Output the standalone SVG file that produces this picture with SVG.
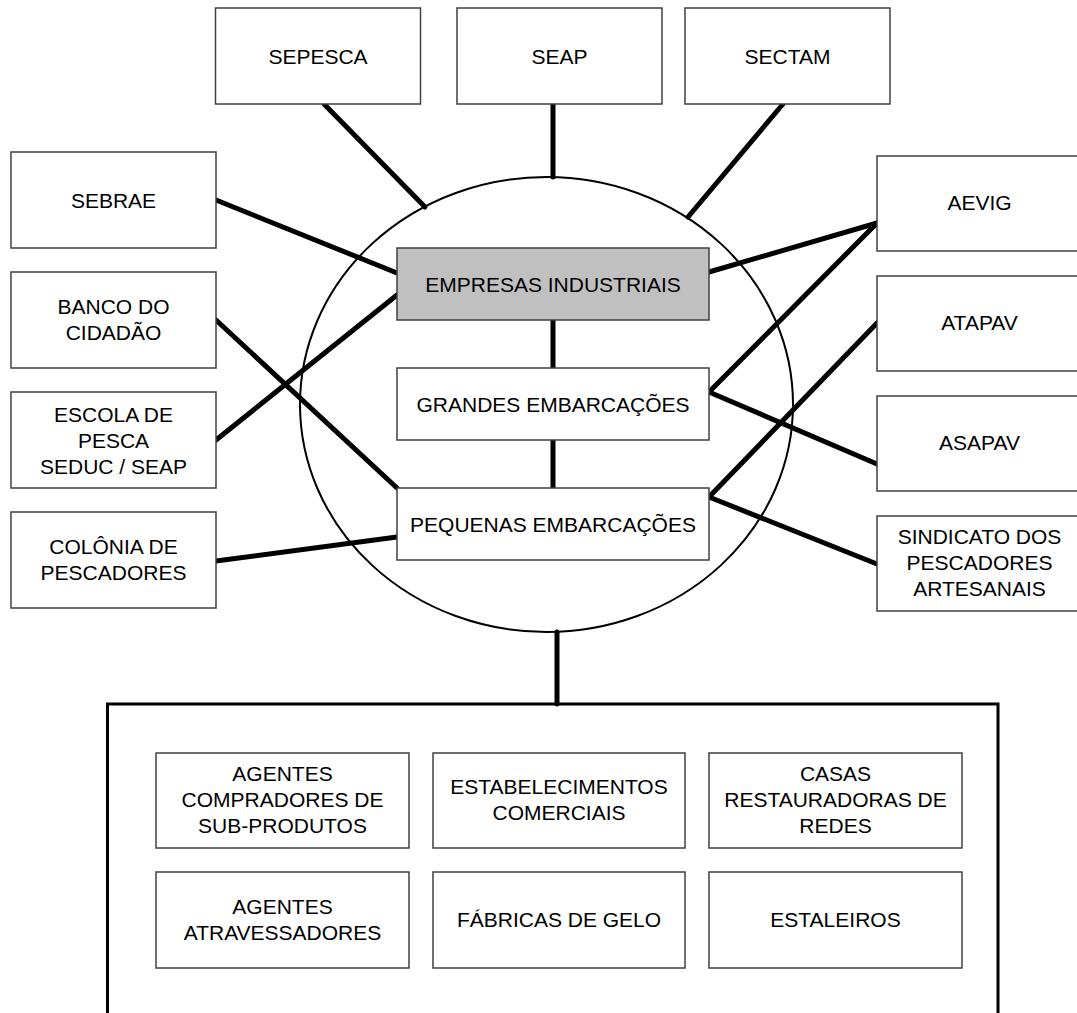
<svg xmlns="http://www.w3.org/2000/svg" width="1077" height="1013" viewBox="0 0 1077 1013">
<style>
  .box { fill: #ffffff; stroke: #404040; stroke-width: 1.5; }
  .gray { fill: #c0c0c0; stroke: #404040; stroke-width: 1.5; }
  .t { font-family: "Liberation Sans", Arial, sans-serif; font-size: 21px; fill: #000; text-anchor: middle; }
  .c { stroke: #000; stroke-width: 5; stroke-linecap: round; fill: none; }
</style>
<rect width="1077" height="1013" fill="#ffffff"/>
<ellipse id="circle" cx="546.5" cy="404.5" rx="246.5" ry="227.5" fill="none" stroke="#000" stroke-width="2"/>
<path id="container" d="M107.5,1013 V704 H998 V1013" fill="none" stroke="#000" stroke-width="3"/>

<g id="connectors">
  <line class="c" x1="324" y1="104" x2="425" y2="207"/>
  <line class="c" x1="553" y1="104" x2="553" y2="177"/>
  <line class="c" x1="783" y1="104" x2="688" y2="217"/>
  <line class="c" x1="216" y1="200" x2="397" y2="273"/>
  <line class="c" x1="216" y1="440" x2="397" y2="295"/>
  <line class="c" x1="216" y1="320" x2="397" y2="488"/>
  <line class="c" x1="216" y1="561" x2="397" y2="537"/>
  <line class="c" x1="877" y1="223" x2="709" y2="272"/>
  <line class="c" x1="877" y1="223" x2="709" y2="392"/>
  <line class="c" x1="877" y1="323" x2="709" y2="497"/>
  <line class="c" x1="709" y1="392" x2="877" y2="464"/>
  <line class="c" x1="709" y1="497" x2="877" y2="564"/>
  <line class="c" x1="553" y1="320" x2="553" y2="368"/>
  <line class="c" x1="553" y1="440" x2="553" y2="488"/>
  <line class="c" x1="557" y1="632" x2="557" y2="704" stroke-linecap="butt"/>
</g>

<g id="sepesca"><rect class="box" x="215.5" y="8" width="205" height="96"/><text class="t" x="318" y="63.5">SEPESCA</text></g>
<g id="seap"><rect class="box" x="457" y="8" width="205" height="96"/><text class="t" x="559.5" y="63.5">SEAP</text></g>
<g id="sectam"><rect class="box" x="685" y="8" width="205" height="96"/><text class="t" x="787.5" y="63.5">SECTAM</text></g>

<g id="sebrae"><rect class="box" x="11" y="152" width="205" height="96"/><text class="t" x="113.5" y="207.5">SEBRAE</text></g>
<g id="banco"><rect class="box" x="11" y="272" width="205" height="96"/><text class="t" x="113.5" y="314">BANCO DO</text><text class="t" x="113.5" y="340">CIDADÃO</text></g>
<g id="escola"><rect class="box" x="11" y="392" width="205" height="96"/><text class="t" x="113.5" y="421.5">ESCOLA DE</text><text class="t" x="113.5" y="447.5">PESCA</text><text class="t" x="113.5" y="473.5">SEDUC / SEAP</text></g>
<g id="colonia"><rect class="box" x="11" y="512" width="205" height="96"/><text class="t" x="113.5" y="553.5">COLÔNIA DE</text><text class="t" x="113.5" y="579.5">PESCADORES</text></g>

<g id="aevig"><rect class="box" x="877" y="156" width="205" height="95"/><text class="t" x="979.5" y="210">AEVIG</text></g>
<g id="atapav"><rect class="box" x="877" y="276" width="205" height="95"/><text class="t" x="979.5" y="330">ATAPAV</text></g>
<g id="asapav"><rect class="box" x="877" y="396" width="205" height="95"/><text class="t" x="979.5" y="450">ASAPAV</text></g>
<g id="sindicato"><rect class="box" x="877" y="516" width="205" height="95"/><text class="t" x="979.5" y="544">SINDICATO DOS</text><text class="t" x="979.5" y="570">PESCADORES</text><text class="t" x="979.5" y="596">ARTESANAIS</text></g>

<g id="empresas"><rect class="gray" x="397" y="248" width="312" height="72"/><text class="t" x="553" y="291.5">EMPRESAS INDUSTRIAIS</text></g>
<g id="grandes"><rect class="box" x="397" y="368" width="312" height="72"/><text class="t" x="553" y="411.5">GRANDES EMBARCAÇÕES</text></g>
<g id="pequenas"><rect class="box" x="397" y="488" width="312" height="72"/><text class="t" x="553" y="531.5">PEQUENAS EMBARCAÇÕES</text></g>

<g id="agentes-compradores"><rect class="box" x="156" y="753" width="253" height="95"/><text class="t" x="282.5" y="781">AGENTES</text><text class="t" x="282.5" y="807">COMPRADORES DE</text><text class="t" x="282.5" y="833">SUB-PRODUTOS</text></g>
<g id="estabelecimentos"><rect class="box" x="433" y="753" width="252" height="95"/><text class="t" x="559" y="793.5">ESTABELECIMENTOS</text><text class="t" x="559" y="819.5">COMERCIAIS</text></g>
<g id="casas"><rect class="box" x="709" y="753" width="253" height="95"/><text class="t" x="835.5" y="781">CASAS</text><text class="t" x="835.5" y="807">RESTAURADORAS DE</text><text class="t" x="835.5" y="833">REDES</text></g>
<g id="agentes-atravessadores"><rect class="box" x="156" y="872" width="253" height="96"/><text class="t" x="282.5" y="913.5">AGENTES</text><text class="t" x="282.5" y="939.5">ATRAVESSADORES</text></g>
<g id="fabricas"><rect class="box" x="433" y="872" width="252" height="96"/><text class="t" x="559" y="927">FÁBRICAS DE GELO</text></g>
<g id="estaleiros"><rect class="box" x="709" y="872" width="253" height="96"/><text class="t" x="835.5" y="927">ESTALEIROS</text></g>
</svg>
